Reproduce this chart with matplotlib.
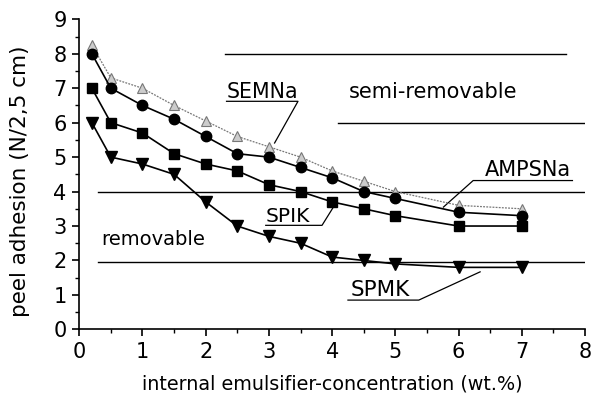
import matplotlib.pyplot as plt
from matplotlib.ticker import MultipleLocator

plt.rcParams['font.family'] = ['DejaVu Sans']

# emulsifier concentration (wt.%)
conc = [0.2, 0.5, 1, 1.5, 2, 2.5, 3, 3.5, 4, 4.5, 5, 6, 7]

# peel adhesion (N/2,5 cm)
semna = [8.25, 7.3, 7.0, 6.5, 6.05, 5.6, 5.3, 5.0, 4.6, 4.3, 4.0, 3.6, 3.5]
ampsna = [8.0, 7.0, 6.5, 6.1, 5.6, 5.1, 5.0, 4.7, 4.4, 4.0, 3.8, 3.4, 3.3]
spik = [7.0, 6.0, 5.7, 5.1, 4.8, 4.6, 4.2, 4.0, 3.7, 3.5, 3.3, 3.0, 3.0]
spmk = [6.0, 5.0, 4.8, 4.5, 3.7, 3.0, 2.7, 2.5, 2.1, 2.0, 1.9, 1.8, 1.8]

# class boundaries: (level, x start, x end)
bounds = [(8.0, 2.3, 7.7), (6.0, 4.1, 8.0), (4.0, 0.3, 8.0), (1.95, 0.3, 8.0)]

fig = plt.figure(figsize=(5.91, 3.94), dpi=100)
ax = fig.add_axes([0.134, 0.164, 0.856, 0.787])

for lvl, x0, x1 in bounds:
    ax.plot([x0, x1], [lvl, lvl], color='black', lw=1.0)

ax.plot(conc, semna, color='#777777', lw=0.9, ls=(0, (1.5, 1)), marker='^',
        ms=7.5, mfc='#cccccc', mec='#777777', mew=0.8, zorder=3)
ax.plot(conc, ampsna, color='black', lw=1.2, marker='o', ms=7.5, zorder=4)
ax.plot(conc, spik, color='black', lw=1.2, marker='s', ms=7, zorder=4)
ax.plot(conc, spmk, color='black', lw=1.2, marker='v', ms=8, zorder=4)

fs = 15
# labels with underline and leader line
ax.text(2.33, 6.9, 'SEMNa', fontsize=14.8, va='center')
ax.plot([2.33, 3.46, 3.09], [6.62, 6.62, 5.41], color='black', lw=0.9)

ax.text(6.42, 4.63, 'AMPSNa', fontsize=15, va='center')
ax.plot([7.8, 6.23, 5.76], [4.32, 4.32, 3.55], color='black', lw=0.9)

ax.text(2.95, 3.29, 'SPIK', fontsize=14.5, va='center')
ax.plot([2.95, 3.84, 4.03], [3.02, 3.02, 3.58], color='black', lw=0.9)

ax.text(4.3, 1.14, 'SPMK', fontsize=15.5, va='center')
ax.plot([4.25, 5.37, 6.34], [0.85, 0.85, 1.67], color='black', lw=0.9)

ax.text(4.27, 6.9, 'semi-removable', fontsize=fs, va='center')
ax.text(0.35, 2.6, 'removable', fontsize=14, va='center')

ax.set_xlim(0, 8)
ax.set_ylim(0, 9)
ax.xaxis.set_major_locator(MultipleLocator(1))
ax.xaxis.set_minor_locator(MultipleLocator(0.5))
ax.yaxis.set_major_locator(MultipleLocator(1))
ax.yaxis.set_minor_locator(MultipleLocator(0.5))
ax.tick_params(which='major', length=5, width=1.2, labelsize=fs)
ax.tick_params(axis='x', which='major', pad=4)
ax.tick_params(axis='y', which='major', pad=4)
ax.tick_params(which='minor', length=3, width=1.0)

ax.spines['top'].set_visible(False)
ax.spines['right'].set_visible(False)
ax.spines['left'].set_linewidth(1.2)
ax.spines['bottom'].set_linewidth(1.2)

ax.set_xlabel('internal emulsifier-concentration (wt.%)', fontsize=13.8, labelpad=9)
ax.set_ylabel('peel adhesion (N/2,5 cm)', fontsize=15.5)
ax.yaxis.set_label_coords(-0.097, 0.478)

plt.savefig('out.png')
plt.close()
